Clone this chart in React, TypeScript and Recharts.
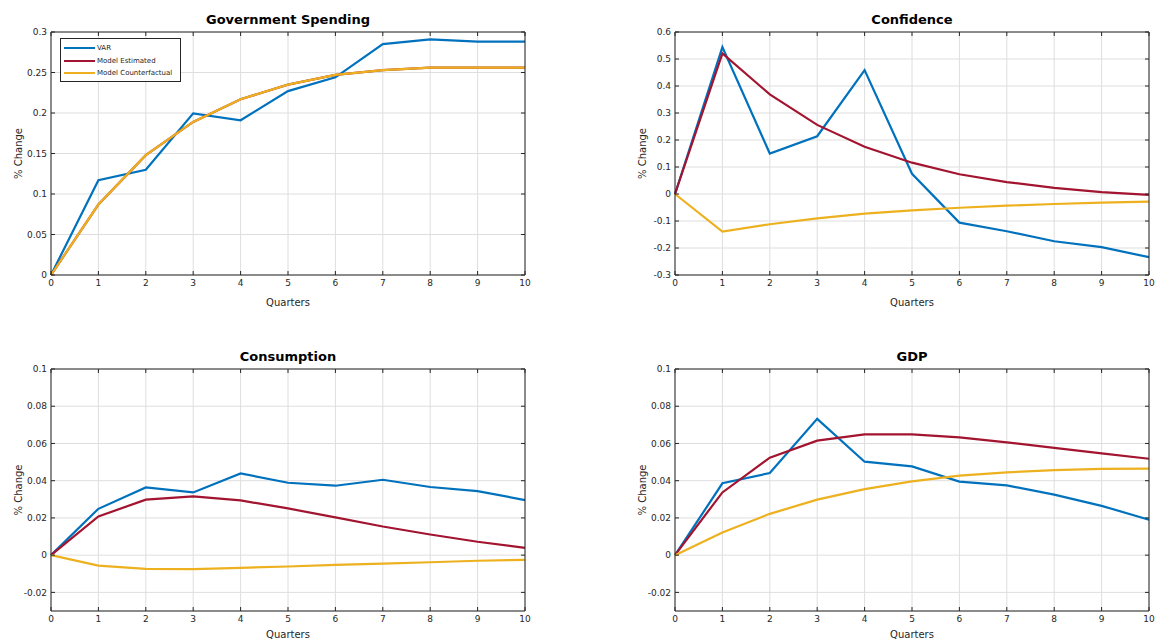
import React from "react";
import { LineChart, Line, XAxis, YAxis, CartesianGrid } from "recharts";

// Impulse responses, quarters 0..10
const quarters = [0, 1, 2, 3, 4, 5, 6, 7, 8, 9, 10];

const govVar = [0, 0.117, 0.13, 0.1995, 0.191, 0.227, 0.244, 0.285, 0.291, 0.288, 0.288];
const govEstimated = [0, 0.087, 0.148, 0.189, 0.217, 0.235, 0.247, 0.253, 0.256, 0.256, 0.256];
const govCounterfactual = [0, 0.087, 0.148, 0.189, 0.217, 0.235, 0.247, 0.253, 0.256, 0.256, 0.256];

const confVar = [0, 0.544, 0.15, 0.214, 0.459, 0.075, -0.106, -0.138, -0.175, -0.197, -0.234];
const confEstimated = [0, 0.521, 0.369, 0.256, 0.175, 0.116, 0.073, 0.044, 0.023, 0.007, -0.003];
const confCounterfactual = [0, -0.139, -0.112, -0.09, -0.073, -0.061, -0.051, -0.043, -0.037, -0.032, -0.028];

const consVar = [0, 0.0249, 0.0364, 0.0337, 0.0439, 0.0389, 0.0373, 0.0405, 0.0366, 0.0344, 0.0296];
const consEstimated = [0, 0.0208, 0.0298, 0.0316, 0.0294, 0.0251, 0.0203, 0.0154, 0.0111, 0.0072, 0.0039];
const consCounterfactual = [0, -0.0056, -0.0074, -0.0075, -0.0068, -0.0061, -0.0052, -0.0045, -0.0038, -0.003, -0.0025];

const gdpVar = [0, 0.0386, 0.0441, 0.0732, 0.0502, 0.0477, 0.0395, 0.0375, 0.0325, 0.0265, 0.019];
const gdpEstimated = [0, 0.0337, 0.0524, 0.0615, 0.0649, 0.0649, 0.0633, 0.0606, 0.0576, 0.0547, 0.0518];
const gdpCounterfactual = [0, 0.0122, 0.0222, 0.0298, 0.0355, 0.0396, 0.0427, 0.0445, 0.0457, 0.0463, 0.0465];

const govTicks = [0, 0.05, 0.1, 0.15, 0.2, 0.25, 0.3];
const confTicks = [-0.3, -0.2, -0.1, 0, 0.1, 0.2, 0.3, 0.4, 0.5, 0.6];
const smallTicks = [-0.02, 0, 0.02, 0.04, 0.06, 0.08, 0.1];

const seriesNames = ["VAR", "Model Estimated", "Model Counterfactual"];
const seriesColors = ["#0072BD", "#A2142F", "#EDB120"];

const FONT = "'DejaVu Sans', Verdana, sans-serif";
const AXIS = "#262626";

const fmt = (v: number) => String(Number(v.toFixed(4)));

function buildRows(a: number[], b: number[], c: number[]) {
  return quarters.map((q, i) => ({ q, var: a[i], est: b[i], cf: c[i] }));
}

const NoTick = () => <g />;

function YLabel(props: any) {
  const vb = props.viewBox;
  const cx = 18;
  const cy = vb.y + vb.height / 2;
  return (
    <text
      x={cx}
      y={cy}
      transform={`rotate(-90, ${cx}, ${cy})`}
      textAnchor="middle"
      dominantBaseline="central"
      fontSize={10}
      fill={AXIS}
      fontFamily={FONT}
    >
      % Change
    </text>
  );
}

type PanelProps = {
  title: string;
  left: number;
  top: number;
  plotHeight: number;
  rows: any[];
  domain: [number, number];
  ticks: number[];
  xLabelOffset: number;
  legend?: boolean;
};

function Panel({ title, left, top, plotHeight, rows, domain, ticks, xLabelOffset, legend }: PanelProps) {
  const width = 535;
  const height = 31 + 1 + plotHeight + 45;
  const tickStyle = { fontSize: 9, fill: AXIS, fontFamily: FONT };
  return (
    <div style={{ position: "absolute", left, top, width, height }}>
      <div
        style={{
          position: "absolute",
          left: 51,
          width: 474,
          top: 11,
          textAlign: "center",
          fontFamily: FONT,
          fontWeight: "bold",
          fontSize: 13,
          color: "#000",
          lineHeight: "17px",
        }}
      >
        {title}
      </div>
      <LineChart
        width={width}
        height={height}
        data={rows}
        margin={{ top: 31, right: 9, bottom: 0, left: 0 }}
      >
        <CartesianGrid stroke="#dedede" strokeWidth={1} />
        <XAxis
          dataKey="q"
          type="number"
          domain={[0, 10]}
          ticks={quarters}
          height={45}
          tickSize={-4}
          tickMargin={9}
          tick={tickStyle}
          stroke={AXIS}
          tickLine={{ stroke: AXIS }}
          label={{
            value: "Quarters",
            position: "insideBottom",
            offset: xLabelOffset,
            fontSize: 10,
            fill: AXIS,
            fontFamily: FONT,
          }}
        />
        <XAxis
          xAxisId="top"
          orientation="top"
          dataKey="q"
          type="number"
          domain={[0, 10]}
          ticks={quarters}
          height={1}
          tickSize={-4}
          tick={NoTick}
          stroke={AXIS}
        />
        <YAxis
          type="number"
          domain={domain}
          ticks={ticks}
          width={51}
          tickSize={-4}
          tickMargin={8}
          tick={tickStyle}
          tickFormatter={fmt}
          stroke={AXIS}
          allowDataOverflow
          label={<YLabel />}
        />
        <YAxis
          yAxisId="right"
          orientation="right"
          type="number"
          domain={domain}
          ticks={ticks}
          width={1}
          tickSize={-4}
          tick={NoTick}
          stroke={AXIS}
          allowDataOverflow
        />
        <Line
          dataKey="var"
          name={seriesNames[0]}
          stroke={seriesColors[0]}
          strokeWidth={2.2}
          dot={false}
          isAnimationActive={false}
        />
        <Line
          dataKey="est"
          name={seriesNames[1]}
          stroke={seriesColors[1]}
          strokeWidth={2.2}
          dot={false}
          isAnimationActive={false}
        />
        <Line
          dataKey="cf"
          name={seriesNames[2]}
          stroke={seriesColors[2]}
          strokeWidth={2.2}
          dot={false}
          isAnimationActive={false}
        />
      </LineChart>
      {legend && (
        <div
          style={{
            position: "absolute",
            left: 60,
            top: 38,
            width: 121,
            height: 44,
            border: `1px solid ${AXIS}`,
            background: "#fff",
            boxSizing: "border-box",
            paddingTop: 3,
          }}
        >
          {seriesNames.map((n, i) => (
            <div
              key={n}
              style={{ display: "flex", alignItems: "center", height: 12.5, paddingLeft: 3 }}
            >
              <div style={{ width: 31, height: 2, background: seriesColors[i], marginRight: 2 }} />
              <span style={{ fontSize: 7, fontFamily: FONT, color: AXIS, whiteSpace: "nowrap" }}>
                {n}
              </span>
            </div>
          ))}
        </div>
      )}
    </div>
  );
}

export default function App() {
  return (
    <div
      style={{
        position: "absolute",
        left: 0,
        top: 0,
        width: 1156,
        height: 642,
        overflow: "hidden",
        background: "#fff",
      }}
    >
      <Panel
        title="Government Spending"
        left={0}
        top={0}
        plotHeight={243}
        rows={buildRows(govVar, govEstimated, govCounterfactual)}
        domain={[0, 0.3]}
        ticks={govTicks}
        xLabelOffset={14}
        legend
      />
      <Panel
        title="Confidence"
        left={624}
        top={0}
        plotHeight={243}
        rows={buildRows(confVar, confEstimated, confCounterfactual)}
        domain={[-0.3, 0.6]}
        ticks={confTicks}
        xLabelOffset={14}
      />
      <Panel
        title="Consumption"
        left={0}
        top={337}
        plotHeight={242}
        rows={buildRows(consVar, consEstimated, consCounterfactual)}
        domain={[-0.03, 0.1]}
        ticks={smallTicks}
        xLabelOffset={18}
      />
      <Panel
        title="GDP"
        left={624}
        top={337}
        plotHeight={242}
        rows={buildRows(gdpVar, gdpEstimated, gdpCounterfactual)}
        domain={[-0.03, 0.1]}
        ticks={smallTicks}
        xLabelOffset={18}
      />
    </div>
  );
}
